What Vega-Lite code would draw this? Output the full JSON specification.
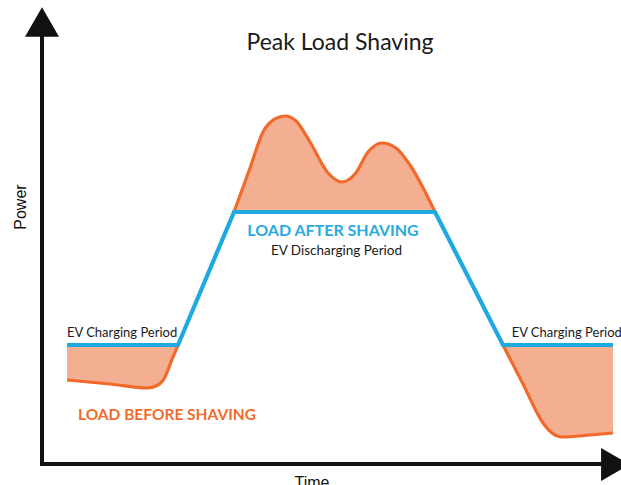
{
  "$schema": "https://vega.github.io/schema/vega-lite/v6.json",
  "width": 621,
  "height": 485,
  "autosize": "none",
  "padding": 0,
  "background": "white",
  "config": {"view": {"stroke": null}},
  "datasets": {
    "load": [
      {"seg": "left", "t": 1.042, "before": 18.67, "after": 26.44},
      {"seg": "left", "t": 2.833, "before": 17.78, "after": 26.44},
      {"seg": "left", "t": 4.375, "before": 16.89, "after": 26.44},
      {"seg": "left", "t": 4.833, "before": 17.56, "after": 26.44},
      {"seg": "left", "t": 5.125, "before": 19.33, "after": 26.44},
      {"seg": "left", "t": 5.375, "before": 22.67, "after": 26.44},
      {"seg": "left", "t": 5.667, "before": 26.44, "after": 26.44},
      {"seg": "peak", "t": 8.0, "before": 56.0, "after": 56.0},
      {"seg": "peak", "t": 8.667, "before": 65.78, "after": 56.0},
      {"seg": "peak", "t": 9.208, "before": 73.78, "after": 56.0},
      {"seg": "peak", "t": 9.708, "before": 76.67, "after": 56.0},
      {"seg": "peak", "t": 10.125, "before": 77.33, "after": 56.0},
      {"seg": "peak", "t": 10.583, "before": 76.22, "after": 56.0},
      {"seg": "peak", "t": 11.167, "before": 71.56, "after": 56.0},
      {"seg": "peak", "t": 11.917, "before": 64.67, "after": 56.0},
      {"seg": "peak", "t": 12.5, "before": 62.67, "after": 56.0},
      {"seg": "peak", "t": 13.042, "before": 64.44, "after": 56.0},
      {"seg": "peak", "t": 13.583, "before": 69.33, "after": 56.0},
      {"seg": "peak", "t": 14.167, "before": 71.33, "after": 56.0},
      {"seg": "peak", "t": 14.75, "before": 70.22, "after": 56.0},
      {"seg": "peak", "t": 15.333, "before": 66.44, "after": 56.0},
      {"seg": "peak", "t": 16.375, "before": 56.0, "after": 56.0},
      {"seg": "right", "t": 19.208, "before": 26.44, "after": 26.44},
      {"seg": "right", "t": 20.042, "before": 17.78, "after": 26.44},
      {"seg": "right", "t": 20.875, "before": 9.11, "after": 26.44},
      {"seg": "right", "t": 21.25, "before": 6.89, "after": 26.44},
      {"seg": "right", "t": 21.667, "before": 6.0, "after": 26.44},
      {"seg": "right", "t": 22.833, "before": 6.44, "after": 26.44},
      {"seg": "right", "t": 23.792, "before": 6.89, "after": 26.44}
    ],
    "after": [
      {"t": 1.042, "p": 26.44},
      {"t": 5.667, "p": 26.44},
      {"t": 8.0, "p": 56.0},
      {"t": 16.375, "p": 56.0},
      {"t": 19.208, "p": 26.44},
      {"t": 23.792, "p": 26.44}
    ],
    "axes": [
      {"axis": "power", "t": 0, "p": -0.44, "t2": 0, "p2": 96.4},
      {"axis": "time", "t": -0.083, "p": 0, "t2": 23.46, "p2": 0}
    ]
  },
  "encoding": {
    "x": {"type": "quantitative", "scale": {"domain": [-1.75, 24.125], "nice": false, "zero": false}, "axis": null},
    "y": {"type": "quantitative", "scale": {"domain": [-4.667, 103.111], "nice": false, "zero": false}, "axis": null}
  },
  "layer": [
    {
      "data": {"name": "load"},
      "mark": {"type": "area", "interpolate": "monotone", "color": "#F4AE91", "opacity": 1},
      "encoding": {"x": {"field": "t", "type": "quantitative"}, "y": {"field": "before", "type": "quantitative"}, "y2": {"field": "after"}, "detail": {"field": "seg", "type": "nominal"}}
    },
    {
      "data": {"name": "load"},
      "mark": {"type": "line", "interpolate": "monotone", "color": "#F26A2B", "strokeWidth": 3.2},
      "encoding": {"x": {"field": "t", "type": "quantitative"}, "y": {"field": "before", "type": "quantitative"}, "detail": {"field": "seg", "type": "nominal"}}
    },
    {
      "data": {"name": "after"},
      "mark": {"type": "line", "color": "#1FA9E1", "strokeWidth": 4.2, "strokeJoin": "miter"},
      "encoding": {"x": {"field": "t", "type": "quantitative"}, "y": {"field": "p", "type": "quantitative"}}
    },
    {
      "data": {"name": "axes"},
      "mark": {"type": "rule", "color": "#111111", "strokeWidth": 4},
      "encoding": {"x": {"field": "t", "type": "quantitative"}, "y": {"field": "p", "type": "quantitative"}, "x2": {"field": "t2"}, "y2": {"field": "p2"}}
    },
    {
      "data": {"values": [{"axis": "power", "t": 0, "p": 98.22}]},
      "mark": {"type": "point", "shape": "triangle-up", "filled": true, "color": "#111111", "size": 1156, "opacity": 1},
      "encoding": {"x": {"field": "t", "type": "quantitative"}, "y": {"field": "p", "type": "quantitative"}}
    },
    {
      "data": {"values": [{"axis": "time", "t": 23.89, "p": -0.1}]},
      "mark": {"type": "point", "shape": "triangle-right", "filled": true, "color": "#111111", "size": 1089, "opacity": 1},
      "encoding": {"x": {"field": "t", "type": "quantitative"}, "y": {"field": "p", "type": "quantitative"}}
    },
    {
      "data": {"values": [{"label": "Peak Load Shaving", "t": 12.417, "p": 92.0}]},
      "mark": {"type": "text", "font": "Lato", "fontSize": 23, "color": "#1a1a1a", "align": "center", "baseline": "alphabetic"},
      "encoding": {"x": {"field": "t", "type": "quantitative"}, "y": {"field": "p", "type": "quantitative"}, "text": {"field": "label"}}
    },
    {
      "data": {"values": [{"label": "LOAD AFTER SHAVING", "t": 12.125, "p": 50.67}]},
      "mark": {"type": "text", "font": "Lato", "fontSize": 16, "fontWeight": "bold", "color": "#29ABE2", "align": "center", "baseline": "alphabetic"},
      "encoding": {"x": {"field": "t", "type": "quantitative"}, "y": {"field": "p", "type": "quantitative"}, "text": {"field": "label"}}
    },
    {
      "data": {"values": [{"label": "EV Discharging Period", "t": 12.27, "p": 46.44}]},
      "mark": {"type": "text", "font": "Lato", "fontSize": 13.5, "color": "#1a1a1a", "align": "center", "baseline": "alphabetic"},
      "encoding": {"x": {"field": "t", "type": "quantitative"}, "y": {"field": "p", "type": "quantitative"}, "text": {"field": "label"}}
    },
    {
      "data": {"values": [{"label": "EV Charging Period", "t": 1.042, "p": 28.22}, {"label": "EV Charging Period", "t": 19.57, "p": 28.3}]},
      "mark": {"type": "text", "font": "Lato", "fontSize": 13, "color": "#1a1a1a", "align": "left", "baseline": "alphabetic"},
      "encoding": {"x": {"field": "t", "type": "quantitative"}, "y": {"field": "p", "type": "quantitative"}, "text": {"field": "label"}}
    },
    {
      "data": {"values": [{"label": "LOAD BEFORE SHAVING", "t": 1.5, "p": 9.78}]},
      "mark": {"type": "text", "font": "Lato", "fontSize": 15.5, "fontWeight": "bold", "color": "#F26B2C", "align": "left", "baseline": "alphabetic"},
      "encoding": {"x": {"field": "t", "type": "quantitative"}, "y": {"field": "p", "type": "quantitative"}, "text": {"field": "label"}}
    },
    {
      "data": {"values": [{"label": "Power", "t": -0.646, "p": 57.1}]},
      "mark": {"type": "text", "font": "Liberation Sans", "fontSize": 16, "color": "#111111", "align": "center", "baseline": "alphabetic", "angle": 270},
      "encoding": {"x": {"field": "t", "type": "quantitative"}, "y": {"field": "p", "type": "quantitative"}, "text": {"field": "label"}}
    },
    {
      "data": {"values": [{"label": "Time", "t": 11.25, "p": -5.33}]},
      "mark": {"type": "text", "font": "Liberation Sans", "fontSize": 16, "color": "#111111", "align": "center", "baseline": "alphabetic"},
      "encoding": {"x": {"field": "t", "type": "quantitative"}, "y": {"field": "p", "type": "quantitative"}, "text": {"field": "label"}}
    }
  ]
}
